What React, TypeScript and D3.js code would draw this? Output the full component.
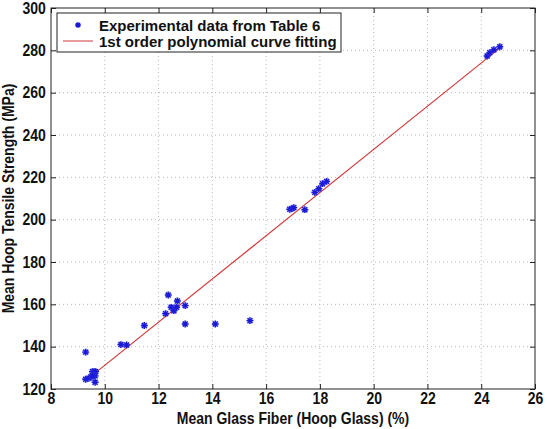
import { useEffect, useRef } from 'react'
import * as d3 from 'd3'

// Experimental data from Table 6 (mean hoop glass %, mean hoop tensile strength MPa)
const glassFiber = [
  9.29, 9.29, 9.41, 9.49, 9.54, 9.60, 9.66, 9.64, 9.64, 9.55,
  10.60, 10.81, 11.47, 12.36, 12.26, 12.47, 12.57, 12.70, 12.67, 12.99,
  12.99, 14.11, 15.40, 16.88, 16.96, 17.03, 17.44, 17.81, 17.96, 18.10,
  18.25, 24.22, 24.32, 24.47, 24.69,
]
const tensileStrength = [
  137.4, 124.6, 125.1, 125.8, 128.2, 128.2, 128.2, 126.2, 123.2, 126.2,
  141.0, 140.8, 150.0, 164.4, 155.6, 158.6, 157.0, 161.6, 158.6, 159.4,
  150.7, 150.7, 152.3, 204.9, 205.2, 205.7, 204.7, 212.9, 214.6, 217.0,
  218.1, 277.3, 278.9, 280.3, 281.7,
]

// 1st order polynomial fit
const fitSlope = 10.2
const fitIntercept = 29.2

const xTicks = [8, 10, 12, 14, 16, 18, 20, 22, 24, 26]
const yTicks = [120, 140, 160, 180, 200, 220, 240, 260, 280, 300]
const legendLabels = ['Experimental data from Table 6', '1st order polynomial curve fitting']

const W = 547
const H = 429
const FONT = '"Liberation Sans", Arial, sans-serif'
const SQUEEZE = 'scale(0.875,1)'

export default function App() {
  const ref = useRef<SVGSVGElement>(null)

  useEffect(() => {
    if (!ref.current) return
    const svg = d3.select(ref.current)
    svg.selectAll('*').remove()

    const left = 51, right = 535, top = 8, bottom = 389
    const x = d3.scaleLinear().domain([8, 26]).range([left, right])
    const y = d3.scaleLinear().domain([120, 300]).range([bottom, top])

    svg.append('rect').attr('width', W).attr('height', H).attr('fill', '#fff')

    // dotted grid
    const grid = svg.append('g').attr('stroke', '#b8b8b8').attr('stroke-width', 1).attr('stroke-dasharray', '1,3')
    xTicks.slice(1, -1).forEach((t) => {
      grid.append('line').attr('x1', x(t)).attr('x2', x(t)).attr('y1', top).attr('y2', bottom)
    })
    yTicks.slice(1, -1).forEach((t) => {
      grid.append('line').attr('x1', left).attr('x2', right).attr('y1', y(t)).attr('y2', y(t))
    })

    // axes box
    svg.append('rect')
      .attr('x', left).attr('y', top)
      .attr('width', right - left).attr('height', bottom - top)
      .attr('fill', 'none').attr('stroke', '#222').attr('stroke-width', 1)

    const axisStyle = (g: d3.Selection<SVGGElement, unknown, null, undefined>) => {
      g.select('.domain').remove()
      g.selectAll('.tick line').attr('stroke', '#222')
      g.selectAll('.tick text')
        .attr('fill', '#111')
        .attr('transform', SQUEEZE)
        .style('font-family', FONT)
        .style('font-weight', 'bold')
        .style('font-size', '16px')
    }

    svg.append('g')
      .attr('transform', `translate(0,${bottom})`)
      .call(d3.axisBottom(x).tickValues(xTicks).tickSizeInner(-5).tickSizeOuter(0).tickPadding(4).tickFormat(d3.format('d')))
      .call(axisStyle)
    svg.append('g')
      .attr('transform', `translate(0,${top})`)
      .call(d3.axisTop(x).tickValues(xTicks).tickSizeInner(-5).tickSizeOuter(0).tickFormat(() => ''))
      .call(axisStyle)
    svg.append('g')
      .attr('transform', `translate(${left},0)`)
      .call(d3.axisLeft(y).tickValues(yTicks).tickSizeInner(-5).tickSizeOuter(0).tickPadding(6).tickFormat(d3.format('d')))
      .call(axisStyle)
    svg.append('g')
      .attr('transform', `translate(${right},0)`)
      .call(d3.axisRight(y).tickValues(yTicks).tickSizeInner(-5).tickSizeOuter(0).tickFormat(() => ''))
      .call(axisStyle)

    // fit line
    const xMin = d3.min(glassFiber) as number
    const xMax = d3.max(glassFiber) as number
    svg.append('path')
      .datum([xMin, xMax])
      .attr('fill', 'none')
      .attr('stroke', '#d0393b')
      .attr('stroke-width', 1.2)
      .attr('d', d3.line<number>().x((d) => x(d)).y((d) => y(fitSlope * d + fitIntercept)))

    // asterisk markers
    const star = (g: d3.Selection<SVGGElement, unknown, null, undefined>, cx: number, cy: number, r: number) => {
      const d = r * 0.72
      g.append('circle').attr('cx', cx).attr('cy', cy).attr('r', r * 1.05).attr('fill', '#5a5ae6').attr('opacity', 0.3)
      g.append('path')
        .attr('d', `M${cx - r},${cy}H${cx + r}M${cx},${cy - r}V${cy + r}M${cx - d},${cy - d}L${cx + d},${cy + d}M${cx - d},${cy + d}L${cx + d},${cy - d}`)
        .attr('stroke', '#1a1ad6')
        .attr('stroke-width', 1.4)
        .attr('fill', 'none')
    }
    const pts = svg.append('g')
    glassFiber.forEach((gx, i) => star(pts, x(gx), y(tensileStrength[i]), 3.4))

    // legend
    const lg = svg.append('g')
    lg.append('rect')
      .attr('x', 57).attr('y', 13).attr('width', 284).attr('height', 39)
      .attr('fill', '#fff').attr('stroke', '#222').attr('stroke-width', 1)
    star(lg, 78, 25, 2.8)
    lg.append('line').attr('x1', 63).attr('x2', 93).attr('y1', 41).attr('y2', 41)
      .attr('stroke', '#d0393b').attr('stroke-width', 1)
    legendLabels.forEach((t, i) => {
      lg.append('text')
        .attr('x', 99).attr('y', 30.5 + i * 16)
        .attr('fill', '#111')
        .style('font-family', FONT).style('font-weight', 'bold').style('font-size', '15px')
        .text(t)
    })

    // axis titles
    svg.append('text')
      .attr('transform', `translate(${(left + right) / 2},424) ${SQUEEZE}`)
      .attr('text-anchor', 'middle').attr('fill', '#111')
      .style('font-family', FONT).style('font-weight', 'bold').style('font-size', '16px')
      .text('Mean Glass Fiber (Hoop Glass) (%)')
    svg.append('text')
      .attr('transform', `translate(14,${(top + bottom) / 2}) rotate(-90) ${SQUEEZE}`)
      .attr('text-anchor', 'middle').attr('fill', '#111')
      .style('font-family', FONT).style('font-weight', 'bold').style('font-size', '16px')
      .text('Mean Hoop Tensile Strength (MPa)')
  }, [])

  return (
    <div style={{ position: 'absolute', left: 0, top: 0 }}>
      <svg ref={ref} width={W} height={H} />
    </div>
  )
}
